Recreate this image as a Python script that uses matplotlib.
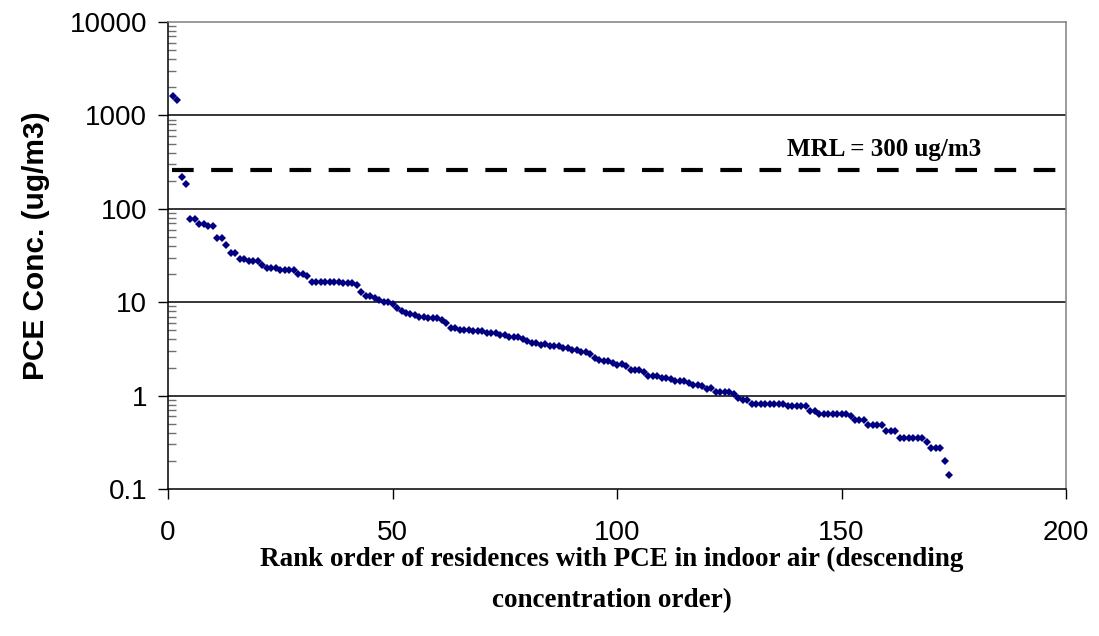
"""
Rank-order plot of PCE concentrations in indoor air, with the MRL line.
"""
import matplotlib
matplotlib.use("Agg")

import matplotlib.pyplot as plt
from matplotlib.ticker import LogLocator, NullFormatter, FixedLocator

# PCE concentration (ug/m3) for each residence, in descending order (rank 1..174)
pce_conc = [
    1600, 1450, 220, 185, 78, 78, 68, 68, 65, 65,
    49, 49, 41, 34, 34, 29, 29, 27.5, 27.5, 27.5,
    25, 23, 23, 23, 22, 22, 22, 22, 20, 20,
    19, 16.6, 16.6, 16.6, 16.6, 16.6, 16.6, 16.6, 16.1, 16.1,
    16.2, 15.3, 12.8, 11.6, 11.6, 11.0, 10.5, 10.1, 10.1, 9.6,
    8.7, 8.1, 7.7, 7.4, 7.3, 7.0, 7.0, 6.7, 6.7, 6.7,
    6.4, 6.0, 5.3, 5.3, 5.1, 5.1, 5.1, 4.9, 4.9, 4.9,
    4.65, 4.65, 4.65, 4.47, 4.5, 4.25, 4.25, 4.25, 4.05, 3.88,
    3.66, 3.7, 3.52, 3.55, 3.37, 3.37, 3.37, 3.24, 3.24, 3.06,
    3.1, 2.96, 2.96, 2.82, 2.55, 2.43, 2.33, 2.36, 2.24, 2.14,
    2.16, 2.06, 1.87, 1.87, 1.87, 1.78, 1.64, 1.64, 1.64, 1.56,
    1.56, 1.51, 1.42, 1.43, 1.43, 1.37, 1.30, 1.30, 1.26, 1.19,
    1.20, 1.10, 1.10, 1.10, 1.10, 1.05, 0.95, 0.906, 0.906, 0.82,
    0.82, 0.82, 0.82, 0.82, 0.82, 0.82, 0.82, 0.78, 0.78, 0.78,
    0.78, 0.78, 0.685, 0.685, 0.63, 0.63, 0.63, 0.63, 0.63, 0.63,
    0.63, 0.60, 0.55, 0.55, 0.55, 0.48, 0.48, 0.48, 0.48, 0.42,
    0.42, 0.42, 0.35, 0.35, 0.35, 0.35, 0.35, 0.35, 0.32, 0.277,
    0.277, 0.277, 0.20, 0.14,
]
rank = list(range(1, len(pce_conc) + 1))

# the dashed MRL line sits a little under 300 in the original chart
mrl_level = 260
mrl_label = 'MRL = 300 ug/m3'

x_ticks = [0, 50, 100, 150, 200]
y_ticks = [0.1, 1, 10, 100, 1000, 10000]
y_tick_labels = ['0.1', '1', '10', '100', '1000', '10000']

x_title = 'Rank order of residences with PCE in indoor air (descending'
x_title2 = 'concentration order)'
y_title = 'PCE Conc. (ug/m3)'


def draw_graph():
  figure = plt.figure(figsize=(10.99, 6.36), dpi=100)
  axs = figure.add_axes([0.1529, 0.2311, 0.8171, 0.7343])

  axs.set_yscale('log')
  axs.set_xlim(0, 200)
  axs.set_ylim(0.1, 10000)

  # horizontal gridlines at each decade
  for val in y_ticks[1:-1]:
    axs.axhline(val, color='black', linewidth=1.1, zorder=1)

  axs.plot(rank, pce_conc, linestyle='none', marker='D', markersize=3.6,
           color='#000080', markeredgewidth=0, zorder=3)

  axs.axhline(mrl_level, xmin=0.004, color='black', linewidth=3.0,
              dashes=(5.2, 4.2), zorder=2)
  axs.text(159.5, 430, mrl_label, ha='center', va='center', fontsize=18,
           fontweight='bold', family='Liberation Serif')

  for side in ['top', 'right']:
    axs.spines[side].set_color('#808080')
  for side in ['left', 'bottom']:
    axs.spines[side].set_color('black')
  for spine in axs.spines.values():
    spine.set_linewidth(1.1)

  axs.xaxis.set_major_locator(FixedLocator(x_ticks))
  axs.set_xticklabels([str(t) for t in x_ticks])
  axs.tick_params(axis='x', direction='out', length=7, width=1, pad=15,
                  labelsize=20)

  axs.yaxis.set_major_locator(FixedLocator(y_ticks))
  axs.set_yticklabels(y_tick_labels)
  axs.yaxis.set_minor_locator(LogLocator(base=10, subs=range(2, 10)))
  axs.yaxis.set_minor_formatter(NullFormatter())
  axs.tick_params(axis='y', which='major', direction='out', length=7,
                  width=1, pad=8, labelsize=20)
  axs.tick_params(axis='y', which='minor', direction='in', length=6,
                  width=1, color='#707070')

  for lbl in axs.get_xticklabels() + axs.get_yticklabels():
    lbl.set_family('Liberation Sans')

  figure.text(0.033, 0.614, y_title, rotation=90, ha='center', va='center',
              fontsize=21.5, fontweight='bold', family='Liberation Sans')
  figure.text(0.557, 1 - 559 / 636.0, x_title, ha='center', va='center',
              fontsize=19.5, fontweight='bold', family='Liberation Serif')
  figure.text(0.557, 1 - 601 / 636.0, x_title2, ha='center', va='center',
              fontsize=19.5, fontweight='bold', family='Liberation Serif')

  plt.savefig('out.png', dpi=100)
  plt.close()


if __name__ == "__main__":
  draw_graph()
